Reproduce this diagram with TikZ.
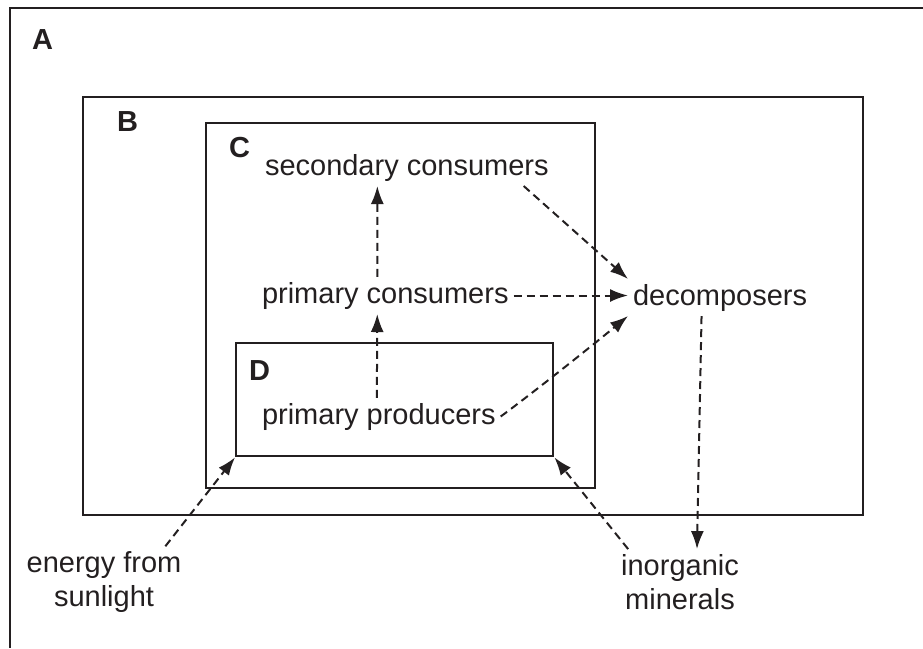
\documentclass[tikz,border=0pt]{standalone}
\usepackage{fontspec}
\setmainfont{Liberation Sans}
\usetikzlibrary{arrows.meta}
\definecolor{ink}{RGB}{35,31,32}
\tikzset{
  box/.style={draw=ink, line width=2.4pt, inner sep=0pt, anchor=north west},
  flow/.style={draw=ink, line width=2pt, dash pattern=on 8pt off 5pt,
    -{Latex[length=18pt,width=13pt]}},
  word/.style={text=ink, inner sep=0pt, outer sep=5pt,
    font=\fontsize{29}{34.5}\selectfont},
  tag/.style={word, anchor=base west, font=\fontsize{29}{34.5}\selectfont\bfseries},
}

\begin{document}
\begin{tikzpicture}[x=1pt, y=-1pt]
  \useasboundingbox (0,0) rectangle (923,648);
  % nested levels
  \draw[ink, line width=2.4pt] (923,8) -- (10,8) -- (10,648);
  \node[box, minimum width=780pt, minimum height=418pt] (B) at (82,96) {};
  \node[box, minimum width=389pt, minimum height=365pt] (C) at (205,122) {};
  \node[box, minimum width=317pt, minimum height=113pt] (D) at (235,342) {};
  \node[tag] (la) at (27,49) {A};
  \node[tag] (lb) at (112,131) {B};
  \node[tag] (lc) at (224,157) {C};
  \node[tag] (ld) at (244,380) {D};

  % feeding levels
  \node[word, anchor=base west] (sc) at (260,175) {secondary consumers};
  \node[word, anchor=base west] (pc) at (257,303) {primary consumers};
  \node[word, anchor=base west] (pp) at (257,424) {primary producers};
  \node[word, anchor=base west] (dec) at (628,305) {decomposers};
  \node[word, align=center] (sun) at (104,582) {energy from\\sunlight};
  \node[word, align=center] (min) at (680,582) {inorganic\\minerals};

  \draw[flow] ([xshift=-2pt]pp.north) -- ([xshift=-8pt]pc.south);
  \draw[flow] ([xshift=-8pt]pc.north) -- ([xshift=-29.5pt]sc.south);
  \draw[flow] (pc.east) -- (pc.east -| dec.west);
  \draw[flow] ([xshift=-30pt]sc.south east) -- (dec.north west);
  \draw[flow] (pp.east) .. controls +(30,-22) and +(-40,33) .. (dec.south west);
  \draw[flow] ([xshift=-18.5pt]dec.south) -- ([xshift=17pt]min.north);
  \draw[flow] ([xshift=-21pt]sun.north east) -- (D.south west);
  \draw[flow] ([xshift=12pt]min.north west) -- (D.south east);
\end{tikzpicture}
\end{document}
